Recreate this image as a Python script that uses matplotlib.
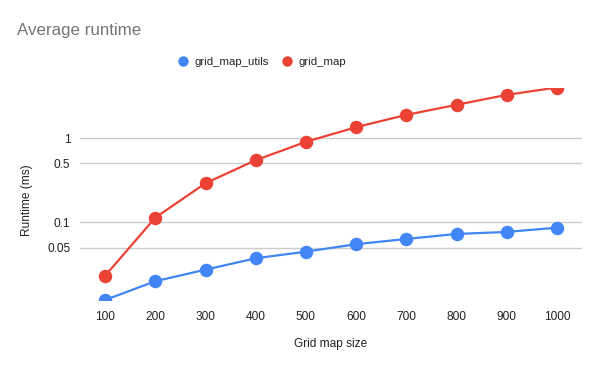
import matplotlib
matplotlib.use("Agg")
import matplotlib.pyplot as plt
from matplotlib.lines import Line2D

plt.rcParams["font.family"] = ["Liberation Sans", "DejaVu Sans"]

sizes = ["100", "200", "300", "400", "500", "600", "700", "800", "900", "1000"]
grid_map_utils = [0.0119, 0.0199, 0.0273, 0.0373, 0.0447, 0.0548, 0.0633, 0.0726, 0.0767, 0.0862]
grid_map = [0.0231, 0.1135, 0.291, 0.547, 0.904, 1.35, 1.89, 2.49, 3.27, 4.0]
yticks = [0.05, 0.1, 0.5, 1]
yticklabels = ["0.05", "0.1", "0.5", "1"]

BLUE = "#4285F4"
RED = "#EA4335"

fig = plt.figure(figsize=(6.0, 3.71), dpi=100)
ax = fig.add_axes([80 / 600, 71 / 371, 502 / 600, 212.5 / 371])

x = range(len(sizes))
ax.plot(x, grid_map_utils, color=BLUE, lw=1.6, marker="o", ms=9.7,
        markeredgewidth=0, zorder=3)
ax.plot(x, grid_map, color=RED, lw=1.6, marker="o", ms=9.7,
        markeredgewidth=0, zorder=3)

ax.set_yscale("log")
ax.set_ylim(min(grid_map_utils), max(grid_map))
ax.set_xlim(-0.5, len(sizes) - 0.5)
ax.set_yticks(yticks)
ax.set_yticklabels(yticklabels)
ax.yaxis.set_minor_locator(matplotlib.ticker.NullLocator())
ax.set_xticks(list(x))
ax.set_xticklabels(sizes)
ax.tick_params(length=0, labelsize=8.6, colors="#222222")
ax.tick_params(axis="y", pad=7)
ax.tick_params(axis="x", pad=8)
ax.grid(axis="y", color="#cccccc", lw=1)
ax.set_axisbelow(True)
for s in ax.spines.values():
    s.set_visible(False)

fig.text(331 / 600, 1 - 344 / 371, "Grid map size", ha="center", va="center",
         fontsize=8.6, color="#222222")
fig.text(27 / 600, 1 - 200 / 371, "Runtime (ms)", ha="center", va="center",
         rotation=90, fontsize=8.6, color="#222222")
fig.text(17 / 600, 1 - 31 / 371, "Average runtime", ha="left", va="center",
         fontsize=12.2, color="#757575")

handles = [Line2D([], [], ls="none", marker="o", ms=7.5, color=BLUE, markeredgewidth=0),
           Line2D([], [], ls="none", marker="o", ms=7.5, color=RED, markeredgewidth=0)]
fig.legend(handles, ["grid_map_utils", "grid_map"], loc="center left",
           bbox_to_anchor=(167 / 600, 1 - 62 / 371), ncol=2, frameon=False,
           fontsize=8.2, handlelength=1.0, handletextpad=0.5, columnspacing=1.1,
           labelcolor="#222222")

fig.savefig("out.png", dpi=100)
